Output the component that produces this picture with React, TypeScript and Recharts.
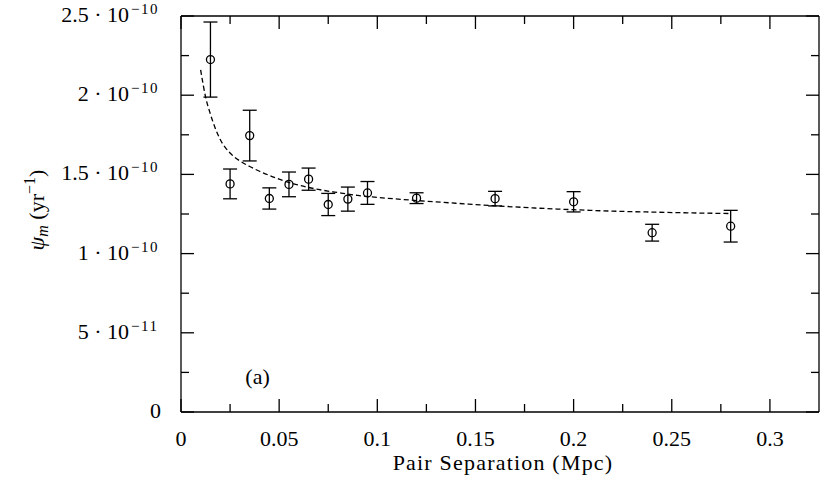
import React from "react";
import {
  ComposedChart,
  Scatter,
  Line,
  XAxis,
  YAxis,
  ErrorBar,
  ReferenceDot,
  Label,
} from "recharts";

// Measured points (separation in Mpc, psi_m in yr^-1, symmetric error)
const sepX = [0.015, 0.025, 0.035, 0.045, 0.055, 0.065, 0.075, 0.085, 0.095, 0.12, 0.16, 0.2, 0.24, 0.28];
const psiY = [2.225e-10, 1.44e-10, 1.745e-10, 1.348e-10, 1.437e-10, 1.47e-10, 1.31e-10, 1.344e-10, 1.383e-10, 1.35e-10, 1.347e-10, 1.327e-10, 1.132e-10, 1.173e-10];
const psiErr = [0.237e-10, 0.094e-10, 0.16e-10, 0.067e-10, 0.078e-10, 0.07e-10, 0.07e-10, 0.076e-10, 0.072e-10, 0.034e-10, 0.046e-10, 0.064e-10, 0.053e-10, 0.1e-10];

// Dashed fit curve
const fitX = [0.01, 0.0125, 0.015, 0.0175, 0.02, 0.025, 0.03, 0.035, 0.04, 0.05, 0.06, 0.07, 0.08, 0.09, 0.1, 0.12, 0.14, 0.16, 0.18, 0.2, 0.22, 0.24, 0.26, 0.28];
const fitY = [2.16e-10, 1.99e-10, 1.88e-10, 1.79e-10, 1.72e-10, 1.635e-10, 1.585e-10, 1.55e-10, 1.52e-10, 1.47e-10, 1.432e-10, 1.405e-10, 1.385e-10, 1.367e-10, 1.355e-10, 1.335e-10, 1.318e-10, 1.302e-10, 1.288e-10, 1.277e-10, 1.268e-10, 1.262e-10, 1.257e-10, 1.253e-10];

// Ticks
const xTicks = [0, 0.025, 0.05, 0.075, 0.1, 0.125, 0.15, 0.175, 0.2, 0.225, 0.25, 0.275, 0.3];
const xMajor = [0, 0.05, 0.1, 0.15, 0.2, 0.25, 0.3];
const xMajorLabels = ["0", "0.05", "0.1", "0.15", "0.2", "0.25", "0.3"];
const yTicks = [0, 2.5e-11, 5e-11, 7.5e-11, 1e-10, 1.25e-10, 1.5e-10, 1.75e-10, 2e-10, 2.25e-10, 2.5e-10];
const yMajor = [0, 5e-11, 1e-10, 1.5e-10, 2e-10, 2.5e-10];
const yMajorMantissa = ["0", "5", "1", "1.5", "2", "2.5"];
const yMajorExp = ["", "\u221211", "\u221210", "\u221210", "\u221210", "\u221210"];

const FONT = "'Liberation Serif', 'Times New Roman', serif";
const FS = 22;
const SUP = 15;
const MAJOR_LEN = 13;
const MINOR_LEN = 8;

const pointData = sepX.map((x, i) => ({ x, y: psiY[i], err: psiErr[i] }));
const fitData = fitX.map((x, i) => ({ x, fit: fitY[i] }));

const findIdx = (arr: number[], v: number) =>
  arr.findIndex((a) => (a === 0 && v === 0) || Math.abs(a - v) < Math.max(1e-13, Math.abs(a) * 1e-6));

const XTickBottom = (props: any) => {
  const { x, y, payload } = props;
  const idx = findIdx(xMajor, payload.value);
  const len = idx >= 0 ? MAJOR_LEN : MINOR_LEN;
  return (
    <g>
      <line x1={x} x2={x} y1={y} y2={y - len} stroke="#000" strokeWidth={1.3} />
      {idx >= 0 && (
        <text x={x} y={y + 34} textAnchor="middle" fontFamily={FONT} fontSize={FS} fill="#000">
          {xMajorLabels[idx]}
        </text>
      )}
    </g>
  );
};

const XTickTop = (props: any) => {
  const { x, y, payload } = props;
  const idx = findIdx(xMajor, payload.value);
  const len = idx >= 0 ? MAJOR_LEN : MINOR_LEN;
  return <line x1={x} x2={x} y1={y} y2={y + len} stroke="#000" strokeWidth={1.3} />;
};

const YTickLeft = (props: any) => {
  const { x, y, payload } = props;
  const idx = findIdx(yMajor, payload.value);
  const len = idx >= 0 ? MAJOR_LEN : MINOR_LEN;
  const hasExp = idx >= 0 && yMajorExp[idx] !== "";
  return (
    <g>
      <line x1={x} x2={x + len} y1={y} y2={y} stroke="#000" strokeWidth={1.3} />
      {idx >= 0 && !hasExp && (
        <text x={x - 20} y={y + 6} textAnchor="end" fontFamily={FONT} fontSize={FS} fill="#000">
          {yMajorMantissa[idx]}
        </text>
      )}
      {hasExp && (
        <>
          <text x={x - 52} y={y + 6} textAnchor="end" fontFamily={FONT} fontSize={FS} fill="#000">
            {yMajorMantissa[idx] + " \u00b7 10"}
          </text>
          <text x={x - 50} y={y - 2} textAnchor="start" fontFamily={FONT} fontSize={SUP} letterSpacing={1.5} fill="#000">
            {yMajorExp[idx]}
          </text>
        </>
      )}
    </g>
  );
};

const YTickRight = (props: any) => {
  const { x, y, payload } = props;
  const idx = findIdx(yMajor, payload.value);
  const len = idx >= 0 ? MAJOR_LEN : MINOR_LEN;
  return <line x1={x} x2={x - len} y1={y} y2={y} stroke="#000" strokeWidth={1.3} />;
};

const YAxisTitle = () => (
  <text
    x={44}
    y={210}
    transform="rotate(-90, 44, 210)"
    textAnchor="middle"
    fontFamily={FONT}
    fontSize={FS}
    fill="#000"
  >
    <tspan fontStyle="italic">ψ</tspan>
    <tspan fontStyle="italic" fontSize={16} dy={4}>m</tspan>
    <tspan dy={-4}>{" (yr"}</tspan>
    <tspan fontSize={16} dy={-9}>{"\u22121"}</tspan>
    <tspan dy={9}>)</tspan>
  </text>
);

const XAxisTitle = () => (
  <text x={503} y={470} textAnchor="middle" fontFamily={FONT} fontSize={FS} letterSpacing={1.2} fill="#000">
    Pair Separation (Mpc)
  </text>
);

const OpenCircle = (props: any) => {
  const { cx, cy } = props;
  return <circle cx={cx} cy={cy} r={4} fill="none" stroke="#000" strokeWidth={1.3} />;
};

export default function App() {
  return (
    <div style={{ position: "absolute", left: 0, top: 0, width: 830, height: 489, background: "#fff" }}>
      <ComposedChart
        width={830}
        height={489}
        margin={{ top: 15, right: 10, bottom: 76, left: 0 }}
      >
        <XAxis
          xAxisId="b"
          dataKey="x"
          type="number"
          orientation="bottom"
          domain={[0, 0.325]}
          allowDataOverflow
          ticks={xTicks}
          interval={0}
          tickSize={0}
          tickMargin={0}
          tickLine={false}
          tick={<XTickBottom />}
          axisLine={{ stroke: "#000", strokeWidth: 1.3 }}
          height={1}
        >
          <Label content={<XAxisTitle />} />
        </XAxis>
        <XAxis
          xAxisId="t"
          dataKey="x"
          type="number"
          orientation="top"
          domain={[0, 0.325]}
          allowDataOverflow
          ticks={xTicks}
          interval={0}
          tickSize={0}
          tickMargin={0}
          tickLine={false}
          tick={<XTickTop />}
          axisLine={{ stroke: "#000", strokeWidth: 1.3 }}
          height={1}
        />
        <YAxis
          yAxisId="l"
          type="number"
          orientation="left"
          domain={[0, 2.5e-10]}
          allowDataOverflow
          ticks={yTicks}
          interval={0}
          tickSize={0}
          tickMargin={0}
          tickLine={false}
          tick={<YTickLeft />}
          axisLine={{ stroke: "#000", strokeWidth: 1.3 }}
          width={181}
        >
          <Label content={<YAxisTitle />} />
        </YAxis>
        <YAxis
          yAxisId="r"
          type="number"
          orientation="right"
          domain={[0, 2.5e-10]}
          allowDataOverflow
          ticks={yTicks}
          interval={0}
          tickSize={0}
          tickMargin={0}
          tickLine={false}
          tick={<YTickRight />}
          axisLine={{ stroke: "#000", strokeWidth: 1.3 }}
          width={1}
        />
        <Line
          xAxisId="b"
          yAxisId="l"
          data={fitData}
          dataKey="fit"
          type="monotone"
          stroke="#000"
          strokeWidth={1.3}
          strokeDasharray="5 3"
          dot={false}
          activeDot={false}
          isAnimationActive={false}
        />
        <Scatter
          xAxisId="b"
          yAxisId="l"
          data={pointData}
          dataKey="y"
          shape={<OpenCircle />}
          isAnimationActive={false}
        >
          <ErrorBar dataKey="err" direction="y" width={7} stroke="#000" strokeWidth={1.3} isAnimationActive={false} />
        </Scatter>
        <ReferenceDot
          xAxisId="b"
          yAxisId="l"
          x={0.039}
          y={2.25e-11}
          r={0}
          fill="none"
          stroke="none"
          label={{ value: "(a)", position: "center", fill: "#000", fontSize: FS, fontFamily: FONT }}
        />
      </ComposedChart>
    </div>
  );
}
